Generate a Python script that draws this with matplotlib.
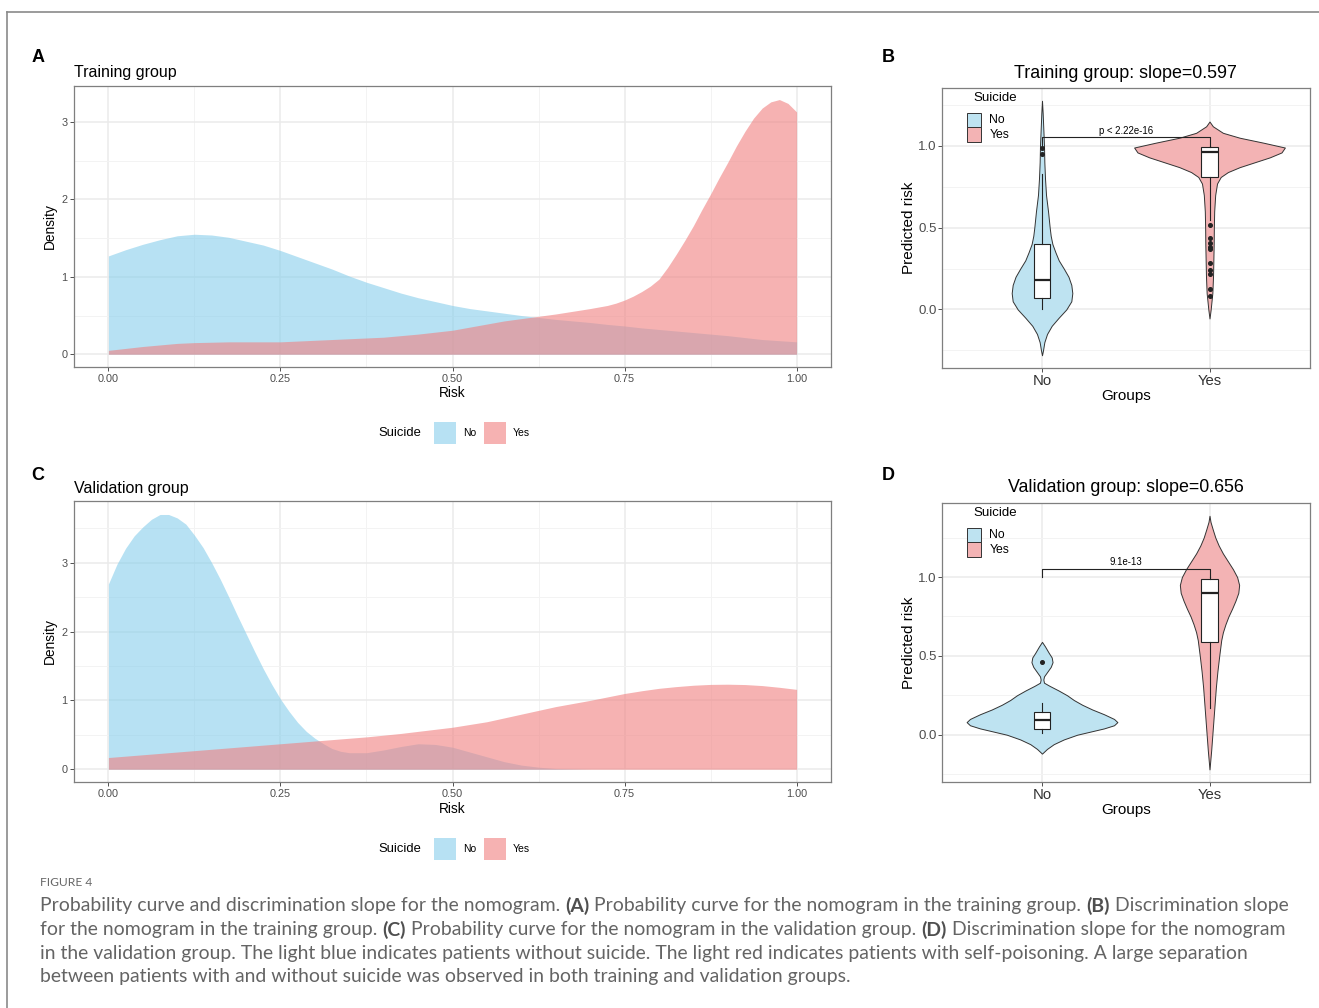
import matplotlib
matplotlib.use('Agg')
import matplotlib.pyplot as plt
from matplotlib.patches import Rectangle
from matplotlib.lines import Line2D

W, H = 1319, 1008
plt.rcParams['font.family'] = ['Liberation Sans', 'DejaVu Sans']

# ---------------- data ----------------
risk = [0.000, 0.025, 0.050, 0.075, 0.100, 0.125, 0.150, 0.175, 0.200, 0.225,
        0.250, 0.275, 0.300, 0.325, 0.350, 0.375, 0.400, 0.425, 0.450, 0.475,
        0.500, 0.525, 0.550, 0.575, 0.600, 0.625, 0.650, 0.675, 0.700, 0.725,
        0.750, 0.775, 0.800, 0.825, 0.850, 0.875, 0.900, 0.925, 0.950, 0.975, 1.000]

# training group, no suicide
train_no = [1.27, 1.35, 1.42, 1.48, 1.53, 1.55, 1.54, 1.51, 1.46, 1.41,
            1.34, 1.26, 1.18, 1.10, 1.01, 0.93, 0.86, 0.79, 0.73, 0.68,
            0.63, 0.59, 0.56, 0.53, 0.50, 0.475, 0.45, 0.43, 0.41, 0.385,
            0.365, 0.34, 0.32, 0.30, 0.28, 0.26, 0.24, 0.215, 0.19, 0.175, 0.16]

# training group, suicide (finer reading near the peak)
risk_train_yes = [0.000, 0.025, 0.050, 0.075, 0.100, 0.125, 0.150, 0.175, 0.200, 0.225,
                  0.250, 0.275, 0.300, 0.325, 0.350, 0.375, 0.400, 0.425, 0.450, 0.475,
                  0.500, 0.525, 0.550, 0.575, 0.600, 0.625, 0.650, 0.675, 0.700, 0.725,
                  0.7375, 0.750, 0.7625, 0.775, 0.7875, 0.800, 0.8125, 0.825, 0.8375, 0.850,
                  0.8625, 0.875, 0.8875, 0.900, 0.9125, 0.925, 0.9375, 0.950, 0.9625, 0.975,
                  0.9875, 1.000]
train_yes = [0.05, 0.075, 0.10, 0.12, 0.14, 0.15, 0.155, 0.16, 0.16, 0.16,
             0.16, 0.17, 0.18, 0.19, 0.20, 0.21, 0.22, 0.24, 0.26, 0.285,
             0.31, 0.35, 0.39, 0.43, 0.46, 0.49, 0.52, 0.555, 0.59, 0.63,
             0.66, 0.70, 0.75, 0.81, 0.88, 0.97, 1.12, 1.29, 1.47, 1.66,
             1.87, 2.07, 2.28, 2.48, 2.69, 2.88, 3.05, 3.18, 3.26, 3.29,
             3.24, 3.13]

# validation group, no suicide (finer reading near the peak)
risk_valid_no = [0.000, 0.0125, 0.025, 0.0375, 0.050, 0.0625, 0.075, 0.0875, 0.100, 0.1125,
                 0.125, 0.1375, 0.150, 0.1625, 0.175, 0.1875, 0.200, 0.2125, 0.225, 0.2375,
                 0.250, 0.2625, 0.275, 0.2875, 0.300, 0.3125, 0.325, 0.3375, 0.350,
                 0.375, 0.400, 0.425, 0.450, 0.475, 0.500, 0.525, 0.550, 0.575, 0.600,
                 0.625, 0.650, 0.675, 0.700, 0.725, 0.750, 0.775, 0.800, 0.825, 0.850,
                 0.875, 0.900, 0.925, 0.950, 0.975, 1.000]
valid_no = [2.69, 2.98, 3.21, 3.39, 3.52, 3.63, 3.70, 3.70, 3.65, 3.56,
            3.40, 3.22, 3.00, 2.76, 2.50, 2.23, 1.97, 1.71, 1.46, 1.23,
            1.02, 0.84, 0.68, 0.55, 0.45, 0.37, 0.30, 0.26, 0.24,
            0.24, 0.28, 0.33, 0.37, 0.36, 0.32, 0.25, 0.18, 0.11, 0.06,
            0.03, 0.01, 0.005, 0.0, 0.0, 0.0, 0.0, 0.0, 0.0, 0.0,
            0.0, 0.0, 0.0, 0.0, 0.0, 0.0]

# validation group, suicide
valid_yes = [0.17, 0.19, 0.21, 0.23, 0.25, 0.27, 0.29, 0.31, 0.33, 0.35,
             0.37, 0.39, 0.41, 0.43, 0.45, 0.47, 0.495, 0.52, 0.55, 0.58,
             0.61, 0.65, 0.69, 0.745, 0.80, 0.855, 0.91, 0.955, 1.00, 1.05,
             1.10, 1.14, 1.175, 1.20, 1.22, 1.232, 1.235, 1.23, 1.215, 1.19, 1.16]

risk_ticks = [0.00, 0.25, 0.50, 0.75, 1.00]
risk_labels = ['0.00', '0.25', '0.50', '0.75', '1.00']

groups = ['No', 'Yes']

# violin outlines: predicted-risk levels and half widths (category units)
vB_no_y = [1.276, 1.2, 1.1, 1.0, 0.9, 0.8, 0.7, 0.6, 0.5, 0.45, 0.4, 0.35, 0.3, 0.25,
           0.2, 0.15, 0.1, 0.05, 0.0, -0.05, -0.1, -0.15, -0.2, -0.25, -0.28]
vB_no_w = [0.0, 0.004, 0.008, 0.012, 0.014, 0.018, 0.024, 0.036, 0.046, 0.052, 0.062, 0.08,
           0.10, 0.13, 0.158, 0.175, 0.181, 0.175, 0.145, 0.10, 0.058, 0.03, 0.014, 0.006, 0.0]
vB_yes_y = [1.149, 1.12, 1.08, 1.05, 1.02, 0.99, 0.96, 0.93, 0.90, 0.87, 0.84, 0.81, 0.77,
            0.7, 0.6, 0.5, 0.4, 0.3, 0.2, 0.1, 0.05, 0.0, -0.055]
vB_yes_w = [0.0, 0.02, 0.08, 0.18, 0.32, 0.45, 0.43, 0.36, 0.27, 0.18, 0.11, 0.067, 0.045,
            0.034, 0.028, 0.026, 0.025, 0.023, 0.021, 0.017, 0.012, 0.007, 0.0]
vD_no_y = [0.589, 0.56, 0.52, 0.49, 0.46, 0.43, 0.40, 0.37, 0.35, 0.33, 0.31, 0.28, 0.25,
           0.22, 0.19, 0.16, 0.13, 0.10, 0.08, 0.06, 0.04, 0.02, 0.0, -0.03, -0.06, -0.09, -0.12]
vD_no_w = [0.0, 0.018, 0.04, 0.058, 0.063, 0.052, 0.032, 0.012, 0.008, 0.012, 0.045, 0.10,
           0.15, 0.19, 0.24, 0.30, 0.37, 0.43, 0.45, 0.43, 0.37, 0.29, 0.21, 0.13, 0.07, 0.03, 0.0]
vD_yes_y = [1.389, 1.35, 1.3, 1.25, 1.2, 1.15, 1.1, 1.05, 1.0, 0.95, 0.9, 0.85, 0.8, 0.75,
            0.7, 0.65, 0.6, 0.5, 0.4, 0.3, 0.2, 0.1, 0.0, -0.1, -0.22]
vD_yes_w = [0.0, 0.006, 0.02, 0.035, 0.055, 0.08, 0.11, 0.14, 0.165, 0.177, 0.172, 0.155,
            0.135, 0.113, 0.095, 0.08, 0.07, 0.058, 0.047, 0.038, 0.031, 0.024, 0.017, 0.01, 0.0]

# box-plot summaries
boxB_no = dict(q1=0.071, med=0.18, q3=0.40, whislo=0.0, whishi=0.83, fliers=[0.949, 0.99])
boxB_yes = dict(q1=0.812, med=0.965, q3=0.996, whislo=0.547, whishi=1.0,
                fliers=[0.516, 0.439, 0.404, 0.38, 0.367, 0.286, 0.241, 0.214, 0.122, 0.082])
boxD_no = dict(q1=0.038, med=0.095, q3=0.143, whislo=0.01, whishi=0.2, fliers=[0.461])
boxD_yes = dict(q1=0.589, med=0.901, q3=0.989, whislo=0.168, whishi=1.0, fliers=[])

pB = 'p < 2.22e-16'
pD = '9.1e-13'

# ---------------- styling ----------------
BLUE = '#87CEEB'
RED = '#F08080'
VBLUE = '#BEE3F1'
VRED = '#F3B3B4'
GRID = '#EBEBEB'
GRIDMIN = '#F3F3F3'
BORDER = '#7F7F7F'
TICKC = '#4D4D4D'

fig = plt.figure(figsize=(W / 100, H / 100), dpi=100)
fig.patch.set_facecolor('white')


def fx(x):
    return x / W


def fy(y):
    return 1 - y / H


def add_ax(x0, y0, x1, y1):
    return fig.add_axes([x0 / W, 1 - y1 / H, (x1 - x0) / W, (y1 - y0) / H])


def style(ax, tick_fs_x, tick_fs_y, xcol, pad_x, pad_y):
    ax.set_axisbelow(True)
    ax.grid(which='major', color=GRID, lw=1.1)
    ax.grid(which='minor', color=GRIDMIN, lw=0.7)
    ax.tick_params(which='minor', length=0)
    ax.tick_params(axis='x', which='major', length=2.75, width=0.6, color='#333333',
                   labelsize=tick_fs_x, labelcolor=xcol, pad=pad_x)
    ax.tick_params(axis='y', which='major', length=2.75, width=0.6, color='#333333',
                   labelsize=tick_fs_y, labelcolor=TICKC, pad=pad_y)
    for s in ax.spines.values():
        s.set_color(BORDER)
        s.set_linewidth(0.9)


# ---------------- density panels ----------------
def density_panel(box, x_no, no, x_yes, yes, ylim, ymaj, ymin, title, tit_y, lab_y, leg_y):
    x0, y0, x1, y1 = box
    ax = add_ax(*box)
    ax.fill_between(x_no, 0, no, color=BLUE, alpha=0.6, lw=0)
    ax.fill_between(x_yes, 0, yes, color=RED, alpha=0.6, lw=0)
    ax.set_xlim(-0.05, 1.05)
    ax.set_ylim(*ylim)
    ax.set_xticks(risk_ticks)
    ax.set_xticklabels(risk_labels)
    ax.set_xticks([0.125, 0.375, 0.625, 0.875], minor=True)
    ax.set_yticks(ymaj)
    ax.set_yticklabels([str(v) for v in ymaj])
    ax.set_yticks(ymin, minor=True)
    style(ax, 7.8, 7.8, TICKC, 2.2, 2.0)
    fig.text(fx(x0), fy(tit_y), title, fontsize=11.5, ha='left', va='center')
    fig.text(fx(50), fy((y0 + y1) / 2), 'Density', fontsize=9.9, rotation=90,
             ha='center', va='center')
    fig.text(fx((x0 + x1) / 2), fy(lab_y), 'Risk', fontsize=9.9, ha='center', va='center')
    # legend below
    fig.text(fx(378), fy(leg_y), 'Suicide', fontsize=9.4, ha='left', va='center')
    for kx, col, lab in [(434, BLUE, 'No'), (484, RED, 'Yes')]:
        fig.add_artist(Rectangle((fx(kx), fy(leg_y + 11)), 22 / W, 22 / H,
                                 transform=fig.transFigure, facecolor=col,
                                 alpha=0.6, lw=0))
        fig.text(fx(kx + 29), fy(leg_y), lab, fontsize=7.5, ha='left', va='center')
    return ax


density_panel((74, 86, 831, 367), risk, train_no, risk_train_yes, train_yes,
              (-0.165, 3.465), [0, 1, 2, 3], [0.5, 1.5, 2.5], 'Training group', 72, 393, 433)
density_panel((74, 501, 831, 782), risk_valid_no, valid_no, risk, valid_yes,
              (-0.1855, 3.896), [0, 1, 2, 3], [0.5, 1.5, 2.5, 3.5], 'Validation group',
              488, 809, 849)


# ---------------- violin panels ----------------
def violin_panel(box, vno, vyes, bno, byes, ylim, ptxt, title, tit_y, leg_top):
    x0, y0, x1, y1 = box
    ax = add_ax(*box)
    for pos, (vy, vw), col in [(1, vno, VBLUE), (2, vyes, VRED)]:
        ax.fill_betweenx(vy, [pos - w for w in vw], [pos + w for w in vw],
                         facecolor=col, edgecolor='#333333', lw=0.7, zorder=2)
    # significance bracket
    ax.plot([1, 1, 2, 2], [1.0, 1.053, 1.053, 1.0], color='#222222', lw=0.8, zorder=3)
    ax.text(1.5, 1.062, ptxt, fontsize=6.9, ha='center', va='bottom', zorder=5)
    ax.bxp([bno, byes], positions=[1, 2], widths=0.098, patch_artist=True,
           showcaps=False, manage_ticks=False,
           boxprops=dict(facecolor='white', edgecolor='#222222', lw=0.8),
           medianprops=dict(color='#222222', lw=1.6),
           whiskerprops=dict(color='#222222', lw=0.8),
           flierprops=dict(marker='o', markersize=2.6, markerfacecolor='#222222',
                           markeredgecolor='#222222', lw=0),
           zorder=4)
    ax.set_xlim(0.4, 2.6)
    ax.set_ylim(*ylim)
    ax.set_xticks([1, 2])
    ax.set_xticklabels(groups)
    ax.set_yticks([0.0, 0.5, 1.0])
    ax.set_yticklabels(['0.0', '0.5', '1.0'])
    ax.set_yticks([-0.25, 0.25, 0.75, 1.25], minor=True)
    style(ax, 10.7, 9.5, '#333333', 1.5, 0.8)
    fig.text(fx((x0 + x1) / 2), fy(tit_y), title, fontsize=12.9, ha='center', va='center')
    fig.text(fx(909), fy((y0 + y1) / 2), 'Predicted risk', fontsize=11, rotation=90,
             ha='center', va='center')
    fig.text(fx((x0 + x1) / 2), fy(y1 + 28), 'Groups', fontsize=11, ha='center', va='center')
    # legend inside
    fig.text(fx(973), fy(leg_top), 'Suicide', fontsize=9.5, ha='left', va='center')
    ky = leg_top + 14.7
    for col, lab in [(VBLUE, 'No'), (VRED, 'Yes')]:
        fig.add_artist(Rectangle((fx(966.7), fy(ky + 14.5)), 14.3 / W, 14.5 / H,
                                 transform=fig.transFigure, facecolor=col,
                                 edgecolor='#333333', lw=0.7))
        fig.text(fx(989.3), fy(ky + 7.5), lab, fontsize=8.8, ha='left', va='center')
        ky += 14.5
    return ax


violin_panel((941.5, 88, 1310, 368), (vB_no_y, vB_no_w), (vB_yes_y, vB_yes_w),
             boxB_no, boxB_yes, (-0.358, 1.354), pB, 'Training group: slope=0.597', 73, 98)
violin_panel((941.5, 503, 1310, 782), (vD_no_y, vD_no_w), (vD_yes_y, vD_yes_w),
             boxD_no, boxD_yes, (-0.30, 1.47), pD, 'Validation group: slope=0.656', 488, 513)

# panel letters
for lx, ly, L in [(38, 58, 'A'), (888, 58, 'B'), (38, 475, 'C'), (888, 475, 'D')]:
    fig.text(fx(lx), fy(ly), L, fontsize=13, fontweight='bold', ha='center', va='center')

# page border (top and left)
fig.add_artist(Line2D([fx(6.5), fx(W)], [fy(12), fy(12)], transform=fig.transFigure,
                      color='#8A8A8A', lw=1.2))
fig.add_artist(Line2D([fx(6.5), fx(6.5)], [fy(12), fy(H)], transform=fig.transFigure,
                      color='#8A8A8A', lw=1.2))

# ---------------- caption ----------------
CAPF = ['Lato', 'DejaVu Sans']
cap_lines = [
    [('Probability curve and discrimination slope for the nomogram.', False), ('(A)', True),
     ('Probability curve for the nomogram in the training group.', False), ('(B)', True),
     ('Discrimination slope', False)],
    [('for the nomogram in the training group.', False), ('(C)', True),
     ('Probability curve for the nomogram in the validation group.', False), ('(D)', True),
     ('Discrimination slope for the nomogram', False)],
    [('in the validation group. The light blue indicates patients without suicide. The light red '
      'indicates patients with self-poisoning. A large separation', False)],
    [('between patients with and without suicide was observed in both training and validation groups.',
      False)],
]
cap_y = [906, 929.5, 953, 976.5]

renderer = fig.canvas.get_renderer()


def text_w(s, size, bold):
    t = fig.text(0, 0, s, fontsize=size, family=CAPF, fontweight='bold' if bold else 'normal')
    w = t.get_window_extent(renderer).width
    t.remove()
    return w


def space_w(size, bold):
    return text_w('a a', size, bold) - text_w('aa', size, bold)


def line_w(segs, size):
    total = 0
    for i, (s, b) in enumerate(segs):
        if i > 0:
            total += space_w(size, False)
        total += text_w(s, size, b)
    return total


base = 12.0
cap_size = base * 1241.0 / line_w(cap_lines[0], base)

for segs, yy in zip(cap_lines, cap_y):
    x = 40.0
    for i, (s, b) in enumerate(segs):
        if i > 0:
            x += space_w(cap_size, False)
        fig.text(fx(x), fy(yy), s, fontsize=cap_size, family=CAPF,
                 fontweight='bold' if b else 'normal',
                 color='#4F4F4F' if b else '#646464', ha='left', va='center')
        x += text_w(s, cap_size, b)

fig_size = 9.0 * 52.0 / text_w('FIGURE 4', 9.0, False)
fig.text(fx(40), fy(883), 'FIGURE 4', fontsize=fig_size, family=CAPF, color='#666666',
         ha='left', va='center')

fig.savefig('out.png', dpi=100, facecolor='white')
